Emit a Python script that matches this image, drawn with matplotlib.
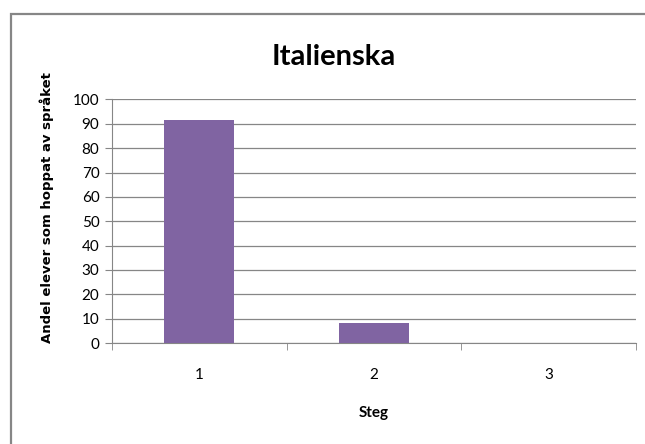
import numpy as np
import matplotlib.pyplot as plt
from matplotlib.patches import Rectangle

# andel elever (%) som hoppat av italienska per steg
steg = ["1", "2", "3"]
andel = [91.7, 8.3, 0.0]
y_ticks = [0, 10, 20, 30, 40, 50, 60, 70, 80, 90, 100]

W, H = 645, 444
fig = plt.figure(figsize=(W / 100, H / 100), dpi=100)
fig.patch.set_facecolor("white")

# ram runt diagrammet (går ut över bildens högra och nedre kant)
fig.add_artist(Rectangle((11 / W, -0.1), 1.2, 1.1 - 14 / H, transform=fig.transFigure,
                         fill=False, edgecolor="#868686", linewidth=1.6))

ax = fig.add_axes([112 / W, 1 - 343 / H, (636 - 112) / W, (343 - 99.5) / H])
x = np.arange(len(steg))
ax.bar(x, andel, width=0.4, color="#8064A2", zorder=3)

ax.set_xlim(-0.5, len(steg) - 0.5)
ax.set_ylim(0, 100)
ax.set_yticks(y_ticks)
ax.set_xticks(x)
ax.set_xticklabels(steg)
ax.set_xticks(np.arange(len(steg) + 1) - 0.5, minor=True)
ax.tick_params(axis="x", which="major", length=0, pad=18, labelsize=11)
ax.tick_params(axis="x", which="minor", length=5, color="#868686", direction="out")
ax.tick_params(axis="y", length=5, color="#868686", labelsize=11, pad=4)

ax.grid(axis="y", color="#868686", linewidth=0.9, zorder=0)
for s in ["top", "right"]:
    ax.spines[s].set_visible(False)
ax.spines["left"].set_color("#868686")
ax.spines["bottom"].set_color("#868686")

for lbl in ax.get_xticklabels() + ax.get_yticklabels():
    lbl.set_fontfamily("Lato")

ax.set_xlabel("Steg", fontsize=11, fontweight="bold", family="Lato", labelpad=17)
ax.set_ylabel("Andel elever som hoppat av språket", fontsize=9.5, fontweight="bold",
              family="DejaVu Sans")
ax.yaxis.set_label_coords(-0.11, 0.558)
fig.text(0.517, 1 - 57 / H, "Italienska", ha="center", va="center",
         fontsize=21, fontweight="bold", family="Lato")

fig.savefig("out.png", dpi=100)
